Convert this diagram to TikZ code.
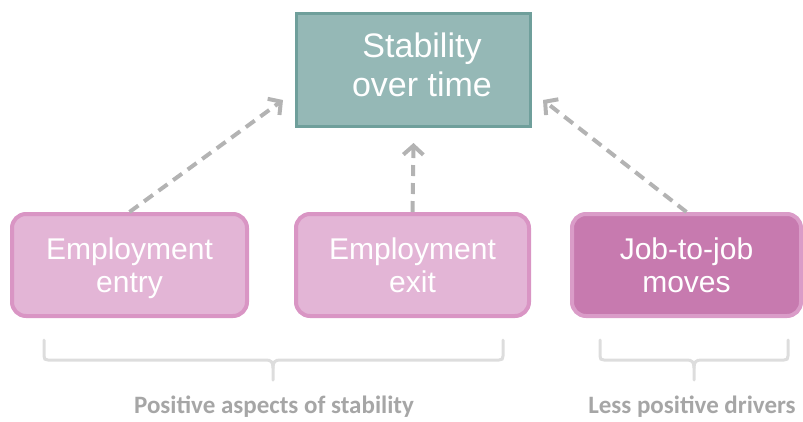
\documentclass[tikz,border=0pt]{standalone}
\usepackage{fontspec}
\setmainfont{Liberation Sans}
\newfontfamily\labelfont{Carlito}
\usetikzlibrary{arrows.meta,positioning}

\definecolor{tealfill}{HTML}{95B8B6}
\definecolor{tealline}{HTML}{6F9F9B}
\definecolor{pinkfill}{HTML}{E3B5D6}
\definecolor{pinkline}{HTML}{D995C4}
\definecolor{darkpink}{HTML}{C77AAF}
\definecolor{darkpinkline}{HTML}{DA9CC8}
\definecolor{arrowgrey}{HTML}{B3B3B3}
\definecolor{bracegrey}{HTML}{DDDDDD}
\definecolor{labelgrey}{HTML}{A6A6A6}

\tikzset{
  topbox/.style={draw=tealline, fill=tealfill, line width=3pt, text=white,
    minimum width=234pt, minimum height=113pt, align=center,
    text height=53pt, text depth=0pt,
    font=\fontsize{34}{39}\selectfont},
  drivebox/.style={draw=pinkline, fill=pinkfill, line width=4pt, text=white,
    rounded corners=14pt, minimum height=102pt, align=center,
    text height=54pt, text depth=0pt,
    font=\fontsize{30}{33}\selectfont},
  link/.style={draw=arrowgrey, line width=4pt, dash pattern=on 11pt off 7pt,
    -{Straight Barb[length=9pt,width=20pt]}},
  brace/.style={draw=bracegrey, line width=3pt, line cap=round},
  bracelabel/.style={text=labelgrey, font=\labelfont\bfseries\fontsize{25}{28}\selectfont}
}

\begin{document}
\begin{tikzpicture}[x=1pt, y=-1pt]
  \useasboundingbox (0,0) rectangle (803,421);

  % boxes
  \node[topbox] (stab) at (413.5,70) {\hspace*{17pt}Stability\\\hspace*{17pt}over time};
  \node[drivebox, minimum width=235pt] (entry) at (129.5,265) {Employment\\entry};
  \node[drivebox, minimum width=233pt] (exit) at (412.5,265) {Employment\\exit};
  \node[drivebox, minimum width=229pt, fill=darkpink, draw=darkpinkline] (jobs) at (686.5,265) {Job-to-job\\moves};

  % dashed links
  \draw[link] (entry.north) -- ([xshift=-12pt,yshift=-30pt]stab.west);
  \draw[link] (exit.north) -- ([yshift=-15pt]stab.south);
  \draw[link] (jobs.north) -- ([xshift=11pt,yshift=-30pt]stab.east);

  % braces
  \draw[brace] (44,340) -- (44,356) .. controls (44,359) and (45,360) .. (48,360)
    -- (266,360) .. controls (271,360) and (273,362) .. (273,368) -- (273,380);
  \draw[brace] (503,340) -- (503,356) .. controls (503,359) and (502,360) .. (499,360)
    -- (280,360) .. controls (275,360) and (273,362) .. (273,368);
  \draw[brace] (600,340) -- (600,356) .. controls (600,359) and (601,360) .. (604,360)
    -- (687,360) .. controls (692,360) and (694,362) .. (694,368) -- (694,380);
  \draw[brace] (788,340) -- (788,356) .. controls (788,359) and (787,360) .. (784,360)
    -- (701,360) .. controls (696,360) and (694,362) .. (694,368);

  \node[bracelabel] (poslabel) at (274,407) {Positive aspects of stability};
  \node[bracelabel] (lesslabel) at (692,407) {Less positive drivers};
\end{tikzpicture}
\end{document}
